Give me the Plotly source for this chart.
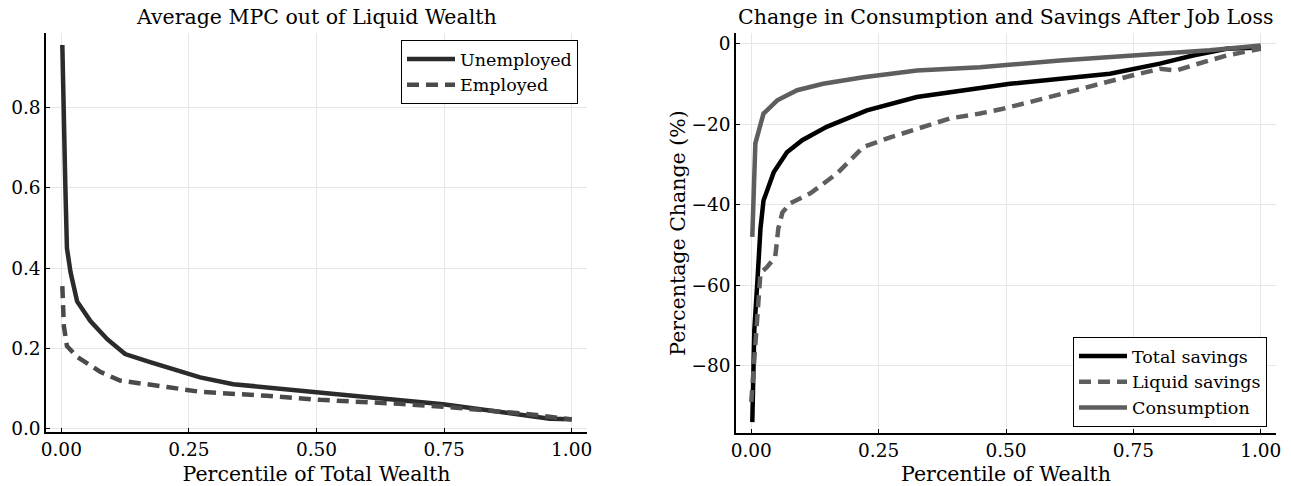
import plotly.graph_objects as go
from plotly.subplots import make_subplots

# Left panel: average MPC out of liquid wealth by percentile of total wealth
mpc_pct_unemp = [0.002, 0.005, 0.008, 0.011, 0.018, 0.031, 0.057, 0.09, 0.125, 0.174,
                 0.272, 0.337, 0.468, 0.566, 0.748, 0.814, 0.84, 0.912, 0.957, 1.0]
mpc_unemp = [0.955, 0.70, 0.60, 0.45, 0.39, 0.317, 0.268, 0.223, 0.186, 0.166,
             0.128, 0.111, 0.094, 0.083, 0.061, 0.049, 0.046, 0.032, 0.025, 0.024]

mpc_pct_emp = [0.002, 0.005, 0.011, 0.031, 0.076, 0.115, 0.207, 0.272, 0.403, 0.507,
               0.663, 0.748, 0.912, 1.0]
mpc_emp = [0.355, 0.256, 0.206, 0.179, 0.142, 0.12, 0.104, 0.092, 0.082, 0.072,
           0.062, 0.055, 0.037, 0.023]

# Right panel: percentage change after job loss by wealth percentile
chg_pct_total = [0.002, 0.006, 0.012, 0.018, 0.024, 0.044, 0.07, 0.1, 0.148, 0.227,
                 0.325, 0.449, 0.508, 0.704, 0.802, 0.867, 0.933, 1.0]
chg_total = [-94, -71, -59, -46, -39, -32, -27, -24, -20.7, -16.6,
             -13.3, -11.2, -10, -7.5, -5, -3, -1.3, -1]

chg_pct_liquid = [0.0, 0.012, 0.018, 0.031, 0.047, 0.053, 0.061, 0.076, 0.116, 0.169,
                  0.22, 0.273, 0.325, 0.39, 0.449, 0.494, 0.573, 0.671, 0.749, 0.802,
                  0.835, 0.867, 0.933, 1.0]
chg_liquid = [-89, -67, -57, -55.5, -53, -46, -42, -39.7, -37.2, -32.2,
              -25.7, -23.3, -21.1, -18.6, -17.4, -16.2, -13.7, -10.4, -7.9, -6.3,
              -6.7, -5.4, -3, -1.3]

chg_pct_cons = [0.002, 0.005, 0.008, 0.024, 0.051, 0.09, 0.141, 0.22, 0.325, 0.449,
                0.606, 0.749, 0.9, 1.0]
chg_cons = [-48, -31, -24.8, -17.4, -14.1, -11.6, -10, -8.4, -6.7, -5.9,
            -4.2, -3.0, -1.7, -0.5]

x_ticks = [0.0, 0.25, 0.5, 0.75, 1.0]
x_tick_text = ["0.00", "0.25", "0.50", "0.75", "1.00"]
mpc_ticks = [0.0, 0.2, 0.4, 0.6, 0.8]
mpc_tick_text = ["0.0", "0.2", "0.4", "0.6", "0.8"]
chg_ticks = [-80, -60, -40, -20, 0]

FONT = "DejaVu Serif"
W, H = 1291, 486

fig = make_subplots(rows=1, cols=2)

fig.add_trace(go.Scatter(x=mpc_pct_unemp, y=mpc_unemp, mode="lines", name="Unemployed",
                         line=dict(color="#2b2b2b", width=4.5), legend="legend"), 1, 1)
fig.add_trace(go.Scatter(x=mpc_pct_emp, y=mpc_emp, mode="lines", name="Employed",
                         line=dict(color="#4a4a4a", width=4.5, dash="12px,7px"),
                         legend="legend"), 1, 1)

fig.add_trace(go.Scatter(x=chg_pct_total, y=chg_total, mode="lines", name="Total savings",
                         line=dict(color="#000000", width=4.5), legend="legend2"), 1, 2)
fig.add_trace(go.Scatter(x=chg_pct_liquid, y=chg_liquid, mode="lines", name="Liquid savings",
                         line=dict(color="#5e5e5e", width=4.5, dash="12px,7px"),
                         legend="legend2"), 1, 2)
fig.add_trace(go.Scatter(x=chg_pct_cons, y=chg_cons, mode="lines", name="Consumption",
                         line=dict(color="#5e5e5e", width=4.5), legend="legend2"), 1, 2)

axis_common = dict(
    showline=True, linecolor="black", linewidth=1.5, mirror=False,
    showgrid=True, gridcolor="#e6e6e6", gridwidth=1, zeroline=False,
    ticks="inside", ticklen=4, tickcolor="black", tickwidth=1, automargin=False,
    tickfont=dict(family=FONT, size=18.5, color="black"),
)

fig.update_xaxes(**axis_common, range=[-0.03, 1.03], tickvals=x_ticks, ticktext=x_tick_text)
fig.update_xaxes(domain=[46 / W, 587 / W], row=1, col=1,
                 title=dict(text="Percentile of Total Wealth", font=dict(family=FONT, size=20.5)))
fig.update_xaxes(domain=[736 / W, 1276 / W], row=1, col=2,
                 title=dict(text="Percentile of Wealth", font=dict(family=FONT, size=20.5)))
fig.update_yaxes(**axis_common)
fig.update_yaxes(domain=[1 - 432 / H, 1 - 33 / H], range=[-0.008, 0.985],
                 tickvals=mpc_ticks, ticktext=mpc_tick_text, row=1, col=1)
fig.update_yaxes(domain=[1 - 433 / H, 1 - 33 / H], range=[-96.7, 2.6],
                 tickvals=chg_ticks, row=1, col=2,
                 title=dict(text="Percentage Change (%)", font=dict(family=FONT, size=20.5),
                            standoff=0))

legend_common = dict(
    bgcolor="white", bordercolor="black", borderwidth=1,
    font=dict(family=FONT, size=17.5, color="black"),
    tracegroupgap=0, itemwidth=48,
)

fig.update_layout(
    width=W, height=H,
    margin=dict(l=0, r=0, t=0, b=0),
    paper_bgcolor="white", plot_bgcolor="white",
    font=dict(family=FONT, color="black"),
    legend=dict(**legend_common, x=578 / W, y=1 - 40 / H, xanchor="right", yanchor="top"),
    legend2=dict(**legend_common, x=1267 / W, y=1 - 427 / H, xanchor="right", yanchor="bottom"),
    annotations=[
        dict(text="Average MPC out of Liquid Wealth", x=(46 + 587) / 2 / W, y=1 - 17 / H,
             xref="paper", yref="paper", xanchor="center", yanchor="middle", showarrow=False,
             font=dict(family=FONT, size=20.5, color="black")),
        dict(text="Change in Consumption and Savings After Job Loss", x=(736 + 1276) / 2 / W,
             y=1 - 17 / H, xref="paper", yref="paper", xanchor="center", yanchor="middle",
             showarrow=False, font=dict(family=FONT, size=20.5, color="black")),
    ],
)

fig.write_html("out.html")
